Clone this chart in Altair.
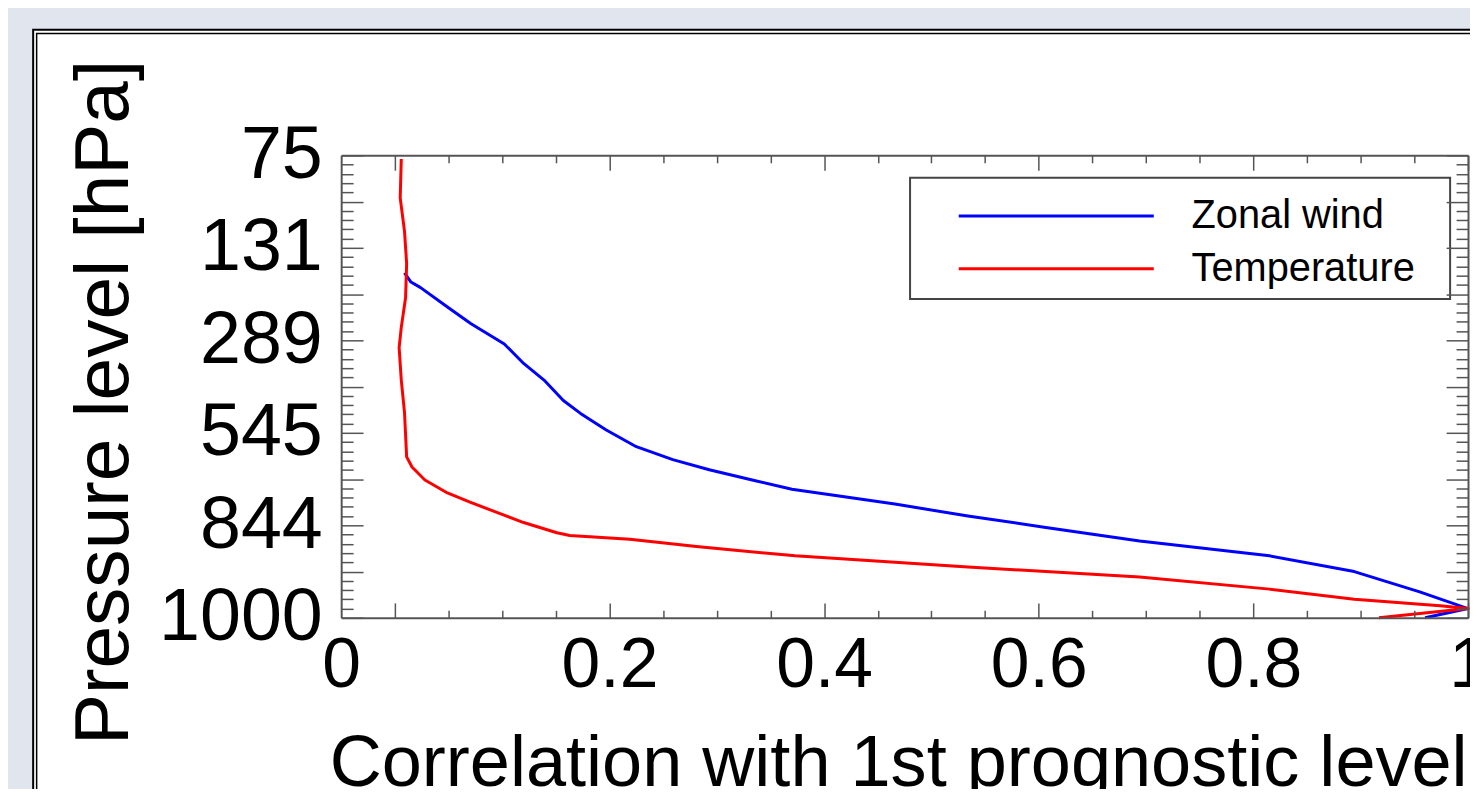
import json
import altair as alt
import pandas as pd

# ---------------- data ----------------
series_names = ["Zonal wind", "Temperature"]
series_colors = ["#0000ff", "#ff0000"]

# model level index (0 = top, 75 hPa ; 50 = bottom, 1000 hPa)
wind_level = [12.7, 13.7, 14.3, 16.4, 18.2, 20.4, 22.5, 24.3, 26.5, 27.9, 29.7,
              31.5, 32.9, 34.0, 35.1, 36.1, 37.7, 39.0, 40.2, 41.7, 43.3, 45.0,
              47.2, 49.0, 50.0]
wind_corr = [0.009, 0.015, 0.024, 0.049, 0.071, 0.102, 0.120, 0.139, 0.157, 0.173,
             0.197, 0.225, 0.259, 0.293, 0.333, 0.370, 0.466, 0.534, 0.605, 0.694,
             0.815, 0.894, 0.955, 1.000, 0.960]

temp_level = [0.4, 4.6, 8.2, 11.7, 15.4, 18.6, 20.8, 24.3, 27.8, 32.6, 33.7, 35.1,
              36.5, 37.5, 38.6, 39.7, 40.8, 41.1, 41.5, 42.3, 43.3, 44.5, 45.6,
              46.9, 48.0, 48.7, 49.0, 50.0]
temp_corr = [0.006, 0.005, 0.009, 0.011, 0.010, 0.006, 0.004, 0.006, 0.009, 0.011,
             0.016, 0.028, 0.049, 0.070, 0.095, 0.120, 0.151, 0.163, 0.219, 0.281,
             0.373, 0.534, 0.694, 0.815, 0.894, 0.974, 1.000, 0.917]

x_label_values = [-0.05, 0.2, 0.4, 0.6, 0.8, 1.0]
x_label_text = ["0", "0.2", "0.4", "0.6", "0.8", "1"]
x_tick_values = [0.0, 0.05, 0.1, 0.15, 0.2, 0.25, 0.3, 0.35, 0.4, 0.45, 0.5,
                 0.55, 0.6, 0.65, 0.7, 0.75, 0.8, 0.85, 0.9, 0.95, 1.0]

y_label_levels = [0, 10, 20, 30, 40, 50]
y_label_text = ["75", "131", "289", "545", "844", "1000"]
y_tick_levels = list(range(0, 51))

# ---------------- table ----------------
rows = []
for name, lv, cv in [(series_names[0], wind_level, wind_corr),
                     (series_names[1], temp_level, temp_corr)]:
    for i, (l, c) in enumerate(zip(lv, cv)):
        rows.append({"series": name, "level": l, "corr": c, "seq": i})
df = pd.DataFrame(rows)
one = pd.DataFrame({"a": [0]})

# ---------------- layout ----------------
W, H = 1133, 465
PAD_L, PAD_T = 335, 146
SVG_W, SVG_H = 1470, 781
FONT = "Liberation Sans"
GRAY = "#555555"

x_scale = alt.Scale(domain=[-0.05, 1.0], nice=False, zero=False)
y_scale = alt.Scale(domain=[0, 50], reverse=True, nice=False, zero=False)

x_label_expr = f"{json.dumps(x_label_text)}[indexof({json.dumps(x_label_values)}, datum.value)]"
y_label_expr = f"{json.dumps(y_label_text)}[indexof({json.dumps(y_label_levels)}, datum.value)]"

x_axis_main = alt.Axis(
    orient="bottom", values=x_label_values, labelExpr=x_label_expr,
    labelFont=FONT, labelFontSize=70, labelColor="black", labelPadding=14,
    labelFlush=False, labelOverlap=False, ticks=False, tickSize=0,
    domain=True, domainColor=GRAY, domainWidth=2, grid=False,
    title="Correlation with 1st prognostic level", titleFont=FONT,
    titleFontSize=72.5, titleFontWeight="normal", titleColor="black",
    titleX=560, titleY=169, titleAlign="center", titleBaseline="alphabetic",
    zindex=1)

y_axis_main = alt.Axis(
    orient="left", values=y_label_levels, labelExpr=y_label_expr,
    labelFont=FONT, labelFontSize=74, labelColor="black", labelPadding=19,
    labelBaseline="middle", labelAlign="right", labelOverlap=False,
    labelFlush=False, ticks=False, tickSize=0,
    domain=True, domainColor=GRAY, domainWidth=2, grid=False,
    title="Pressure level [hPa]", titleFont=FONT, titleFontSize=77,
    titleFontWeight="normal", titleColor="black", titleAngle=270,
    titleX=-215, titleY=248, titleAlign="center", titleBaseline="alphabetic",
    zindex=1)

X_MAJOR = "abs(datum.value*5 - round(datum.value*5)) < 0.001"
Y_MAJOR = "datum.value % 5 == 0"


def tick_axis(orient, offset, values, test, major, minor, domain):
    return alt.Axis(
        orient=orient, offset=offset, values=values, labels=False, title=None,
        grid=False, domain=domain, domainColor=GRAY, domainWidth=2,
        ticks=True, tickColor=GRAY, tickWidth=1.5,
        tickSize={"condition": {"test": test, "value": major}, "value": minor},
        zindex=1)


legend = alt.Legend(
    orient="none", legendX=572, legendY=27, title=None, direction="vertical",
    symbolType="M-5.3,0H5.3", symbolSize=1369, symbolStrokeWidth=3,
    symbolOffset=113, labelOffset=116, labelFont=FONT, labelFontSize=40,
    labelColor="black", labelBaseline="middle", labelLimit=0, padding=14,
    rowPadding=13, zindex=1)

frame_outer = alt.Chart(one).mark_rect(
    fill="white", stroke="black", strokeWidth=2).encode(
    x=alt.value(-309.7), x2=alt.value(3000), y=alt.value(-126.3), y2=alt.value(3000))
frame_inner = alt.Chart(one).mark_rect(
    filled=False, stroke="black", strokeWidth=1.5).encode(
    x=alt.value(-306.2), x2=alt.value(3000), y=alt.value(-122.5), y2=alt.value(3000))

# legend frame box
legend_box = alt.Chart(one).mark_rect(
    fill="white", stroke="#444444", strokeWidth=2).encode(
    x=alt.value(572), x2=alt.value(1115), y=alt.value(22.5), y2=alt.value(144.5))

lines = alt.Chart(df).mark_line(strokeWidth=3, strokeJoin="round").encode(
    x=alt.X("corr:Q", scale=x_scale, axis=x_axis_main),
    y=alt.Y("level:Q", scale=y_scale, axis=y_axis_main),
    color=alt.Color("series:N", scale=alt.Scale(domain=series_names, range=series_colors),
                    legend=legend),
    order=alt.Order("seq:Q"),
)

# inward ticks at bottom and left
ticks_bl = alt.Chart(df).mark_point(opacity=0).encode(
    x=alt.X("corr:Q", scale=x_scale,
            axis=tick_axis("top", -H, x_tick_values, X_MAJOR, 15, 7.5, False)),
    y=alt.Y("level:Q", scale=y_scale,
            axis=tick_axis("right", -W, y_tick_levels, Y_MAJOR, 22, 12, False)),
)
# inward ticks at top and right
ticks_tr = alt.Chart(df).mark_point(opacity=0).encode(
    x=alt.X("corr:Q", scale=x_scale,
            axis=tick_axis("bottom", -H, x_tick_values, X_MAJOR, 15, 7.5, True)),
    y=alt.Y("level:Q", scale=y_scale,
            axis=tick_axis("left", -W, y_tick_levels, Y_MAJOR, 22, 12, True)),
)

chart = alt.layer(frame_outer, frame_inner, legend_box, lines, ticks_bl, ticks_tr).resolve_axis(
    x="independent", y="independent"
).properties(
    width=W, height=H,
    autosize=alt.AutoSizeParams(type="none"),
    padding={"left": PAD_L, "top": PAD_T, "right": SVG_W - PAD_L - W,
             "bottom": SVG_H - PAD_T - H},
    background="#e1e5ed",
).configure_view(stroke=None)

chart.save("out.html", embed_options={"renderer": "svg", "actions": False})
